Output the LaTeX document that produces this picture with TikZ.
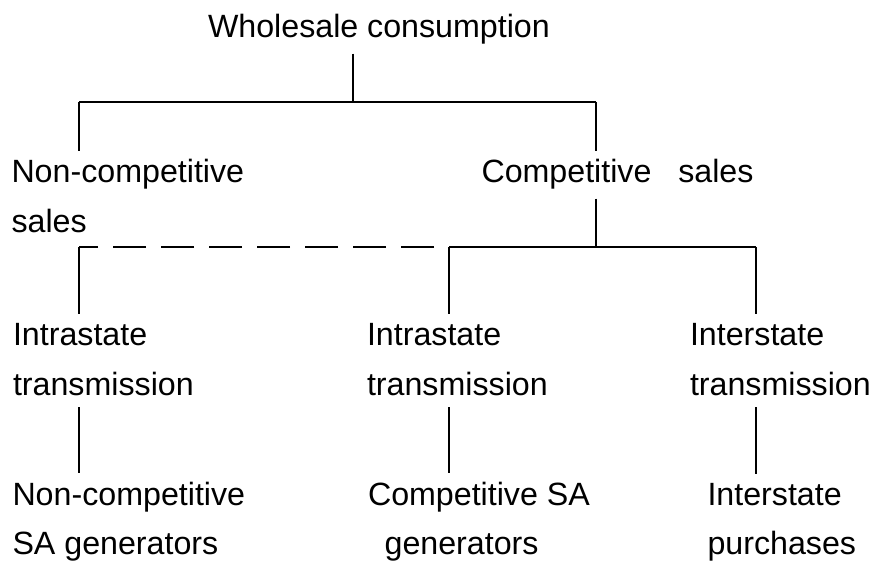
\documentclass[tikz,border=0pt]{standalone}
\usepackage{fontspec}
\setmainfont{Liberation Sans}
\usepackage{tikz}
\newcommand{\lblfont}{\fontsize{16.1pt}{25pt}\selectfont}

\begin{document}
\begin{tikzpicture}[x=0.5pt,y=-0.5pt,line width=1pt]
\tikzstyle{lbl}=[font=\lblfont, align=left, inner sep=0pt, outer xsep=0pt, outer ysep=4.5pt, anchor=base west]
\tikzstyle{lbltight}=[lbl, font=\fontsize{16.1pt}{24.5pt}\selectfont]
\useasboundingbox (0,0) rectangle (873,561);
\node [lbl] (root) at (208,38) {Wholesale consumption};
\node [lbl] (ncs) at (11.5,233) {Non-competitive\\sales};
\node [lbl] (cs) at (481.5,183) {Competitive~~~sales};
\node [lbl] (tra) at (13,395) {Intrastate\\transmission};
\node [lbl] (trb) at (367,395) {Intrastate\\transmission};
\node [lbl] (trc) at (690,395) {Interstate\\transmission};
\node [lbltight] (gena) at (12.5,554) {Non-competitive\\SA generators};
\node [lbltight] (genb) at (368,554) {Competitive SA\\\hspace*{8.3pt}generators};
\node [lbltight] (genc) at (707.5,554) {Interstate\\purchases};
\coordinate (j0) at (353,102);
\coordinate (jl) at (79,102);
\coordinate (jr) at (596,102);
\coordinate (k0) at (596,247);
\coordinate (kl) at (79,247);
\coordinate (km) at (449,247);
\coordinate (kr) at (756,247);
\draw [black] (root.south -| j0) -- (j0);
\draw [black] (jl) -- (jr);
\draw [black] (jl) -- (ncs.north -| jl);
\draw [black] (jr) -- (cs.north -| jr);
\draw [black] (cs.south -| k0) -- (k0);
\draw [black, dash pattern=on 16.5pt off 7.5pt, dash phase=16.5pt] (km) -- (kl);
\draw [black] (km) -- (kr);
\draw [black] (kl) -- (tra.north -| kl);
\draw [black] (km) -- (trb.north -| km);
\draw [black] (kr) -- (trc.north -| kr);
\draw [black, shorten <=1.5pt] (tra.south -| kl) -- (gena.north -| kl);
\draw [black, shorten <=1.5pt] (trb.south -| km) -- (genb.north -| km);
\draw [black, shorten <=1.5pt] (trc.south -| kr) -- (genc.north -| kr);
\end{tikzpicture}
\end{document}
